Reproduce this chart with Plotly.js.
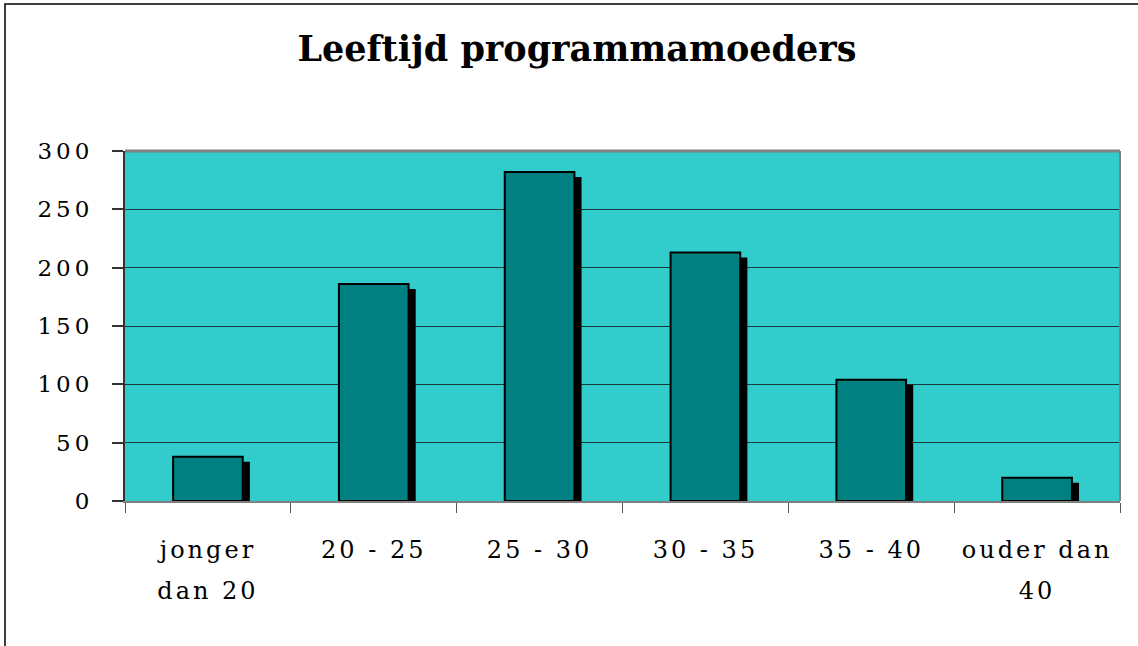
<!DOCTYPE html>
<html>
<head>
<meta charset="utf-8">
<script src="https://cdn.plot.ly/plotly-3.0.1.min.js"></script>
<style>
  html, body { margin: 0; padding: 0; background: #fff; }
  #chart { width: 1138px; height: 646px; }
  .ytick text { letter-spacing: 4px; }
  .xtick text { letter-spacing: 3px; }
</style>
</head>
<body>
<div id="chart"></div>
<script>
const categories = ["jonger<br>dan 20", "20 - 25", "25 - 30", "30 - 35", "35 - 40", "ouder dan<br>40"];
const values = [38, 186, 282, 213, 104, 20];
const yTicks = [0, 50, 100, 150, 200, 250, 300];
const titleText = "Leeftijd programmamoeders";

const barWidth = 0.42;
const shadowShift = 0.043;
const shadowDrop = 4.3;

const shadow = {
  type: "bar",
  x: categories,
  y: values,
  base: -shadowDrop,
  width: barWidth,
  offset: -barWidth / 2 + shadowShift,
  marker: { color: "#000000", line: { width: 0 } },
  hoverinfo: "skip",
  showlegend: false
};
const bars = {
  type: "bar",
  x: categories,
  y: values,
  width: barWidth,
  offset: -barWidth / 2,
  marker: { color: "#008080", line: { color: "#000000", width: 2 } },
  showlegend: false
};

const layout = {
  width: 1138,
  height: 646,
  margin: { l: 125, r: 18, t: 151, b: 145, pad: 0 },
  paper_bgcolor: "#ffffff",
  plot_bgcolor: "#33CCCC",
  barmode: "overlay",
  font: { family: "DejaVu Serif, serif", color: "#000000" },
  title: {
    text: "<b>" + titleText + "</b>",
    font: { family: "DejaVu Serif, serif", size: 35, color: "#000000" },
    x: 0.507, xref: "container", xanchor: "center",
    y: 0.925, yref: "container", yanchor: "middle"
  },
  xaxis: {
    type: "category",
    tickmode: "array",
    tickvals: categories,
    ticktext: categories,
    tickson: "boundaries",
    ticks: "outside",
    ticklen: 10,
    tickcolor: "#555555",
    tickwidth: 1,
    showline: true,
    linecolor: "#808080",
    linewidth: 2,
    showgrid: false,
    zeroline: false,
    tickfont: { family: "DejaVu Serif, serif", size: 24, color: "#000000" },
    ticklabelstandoff: 26,
    fixedrange: true
  },
  yaxis: {
    range: [0, 300],
    tickmode: "array",
    tickvals: yTicks,
    ticks: "outside",
    ticklen: 11,
    tickcolor: "#333333",
    tickwidth: 2,
    showline: true,
    linecolor: "#333333",
    linewidth: 2,
    showgrid: true,
    gridcolor: "#1a3a3a",
    gridwidth: 1,
    zeroline: false,
    tickfont: { family: "DejaVu Serif, serif", size: 23, color: "#000000" },
    ticklabelstandoff: 14,
    fixedrange: true
  },
  shapes: [
    { type: "rect", xref: "paper", yref: "paper", x0: (5 - 125) / 995, x1: 1.05, y0: -0.6, y1: (501 - 4) / 350,
      line: { color: "#000000", width: 1.5 }, fillcolor: "rgba(0,0,0,0)", layer: "below" },
    { type: "line", xref: "paper", yref: "paper", x0: 0, x1: 1, y0: 1, y1: 1,
      line: { color: "#808080", width: 3 } },
    { type: "line", xref: "paper", yref: "paper", x0: 1, x1: 1, y0: 0, y1: 1,
      line: { color: "#808080", width: 2 } }
  ]
};

Plotly.newPlot("chart", [shadow, bars], layout, { staticPlot: true, displayModeBar: false }).then(function (gd) {
  gd.querySelectorAll(".xtick text").forEach(function (t) {
    const lines = t.querySelectorAll("tspan.line");
    lines.forEach(function (ln, i) {
      if (i > 0) ln.setAttribute("dy", (1.7 * i) + "em");
    });
  });
});
</script>
</body>
</html>
